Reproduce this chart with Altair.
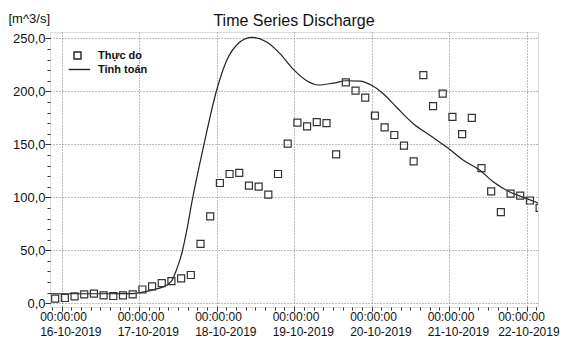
import altair as alt
import pandas as pd

# ---- data ----
obs_start = "2019-10-15 22:00"          # observations every 3 hours
obs_values = [4.4, 5, 6.6, 8.5, 9.1, 7.5, 6.9, 7.5, 8.5,
              13, 16, 19, 21, 23.6, 26.7, 56, 82,
              113.5, 122, 123, 111, 110, 102.5, 122, 150.6,
              170.5, 167, 171, 170, 140.6, 208.5, 200.6, 194,
              177, 166, 158.8, 148.8, 134, 215.4, 186, 197.8,
              176, 159.7, 175, 127.6, 105.7, 86, 103.5, 101.6,
              97, 90]

sim_times = ["2019-10-15 20:00", "2019-10-16 00:00", "2019-10-16 12:00", "2019-10-16 22:00",
             "2019-10-17 01:00", "2019-10-17 04:00", "2019-10-17 07:00", "2019-10-17 10:00",
             "2019-10-17 11:36", "2019-10-17 13:12", "2019-10-17 14:42", "2019-10-17 16:18",
             "2019-10-17 19:54", "2019-10-18 00:00", "2019-10-18 03:06", "2019-10-18 07:12",
             "2019-10-18 10:48", "2019-10-18 15:30", "2019-10-18 19:36", "2019-10-18 23:42",
             "2019-10-19 03:54", "2019-10-19 07:30", "2019-10-19 12:06", "2019-10-19 16:18",
             "2019-10-19 20:24", "2019-10-20 00:00", "2019-10-20 03:36", "2019-10-20 07:42",
             "2019-10-20 12:54", "2019-10-20 18:00", "2019-10-20 23:12", "2019-10-21 04:24",
             "2019-10-21 09:30", "2019-10-21 13:42", "2019-10-21 18:48", "2019-10-22 00:00",
             "2019-10-22 03:36"]
sim_values = [9, 9, 9, 9.2,
              10.5, 12.5, 15, 21,
              32, 47, 68, 95,
              147.5, 201, 229, 246.5,
              251, 246.5, 235.6, 221,
              210, 206, 207.8, 210,
              209.7, 205.7, 197.8, 185,
              169.5, 158.5, 147.5, 135,
              125.5, 114.4, 105, 98.8,
              94.6]

series_names = ["Thực do", "Tinh toán"]
day_ticks = ["2019-10-16", "2019-10-17", "2019-10-18", "2019-10-19",
             "2019-10-20", "2019-10-21", "2019-10-22"]
y_ticks = [0, 50, 100, 150, 200, 250]
y_minor = list(range(0, 260, 10))

# ---- tables ----
obs = pd.DataFrame({
    "t": pd.date_range(obs_start, periods=len(obs_values), freq="3h").strftime("%Y-%m-%dT%H:%M:%S"),
    "q": obs_values,
    "s": series_names[0],
})
sim = pd.DataFrame({
    "t": pd.to_datetime(sim_times).strftime("%Y-%m-%dT%H:%M:%S"),
    "q": sim_values,
    "s": series_names[1],
})
x_minor = list(pd.date_range("2019-10-15 21:00", "2019-10-22 03:00", freq="3h").strftime("%Y-%m-%dT%H:%M:%S"))

def dt(s):
    ts = pd.Timestamp(s)
    return alt.DateTime(year=ts.year, month=ts.month, date=ts.day, hours=ts.hour, minutes=ts.minute)

x_scale = alt.Scale(domain=[dt("2019-10-15 20:24"), dt("2019-10-22 03:30")])
y_scale = alt.Scale(domain=[-3.5, 256], nice=False, zero=False)

FONT = "Liberation Sans"

line = alt.Chart(sim).mark_line(color="#222222", strokeWidth=1.2, interpolate="monotone", clip=True).encode(
    x=alt.X("t:T", scale=x_scale,
            axis=alt.Axis(orient="bottom", values=[dt(d) for d in day_ticks], title=None,
                          grid=True, gridDash=[1, 2], gridColor="#7a7a7a", gridWidth=1,
                          domain=False, ticks=True, tickSize=4, tickColor="#333",
                          labelExpr="[timeFormat(datum.value, '%H:%M:%S'), timeFormat(datum.value, '%d-%m-%Y')]",
                          labelAlign="left", labelBaseline="top",
                          labelOffset={"condition": {"test": "datum.index > 0.99", "value": -29},
                                       "value": -22},
                          labelFontSize=12, labelFont=FONT, labelColor="#111",
                          labelLineHeight=15, labelPadding=0,
                          labelFlush=False, labelOverlap=False)),
    y=alt.Y("q:Q", scale=y_scale,
            axis=alt.Axis(orient="left", values=y_ticks, grid=True, gridDash=[1, 2],
                          gridColor="#7a7a7a", gridWidth=1, domain=False,
                          tickSize=5, tickColor="#333",
                          labelExpr="replace(format(datum.value, '.1f'), '.', ',')",
                          labelFontSize=13, labelFont=FONT, labelColor="#111", labelPadding=0,
                          title="[m^3/s]", titleAngle=0, titleAlign="left", titleBaseline="alphabetic",
                          titleX=-42, titleY=-10, titleFontSize=13, titleFontWeight="normal",
                          titleFont=FONT, titleColor="#111")),
)

points = alt.Chart(obs).mark_point(shape="square", filled=False, size=49, strokeWidth=1.2,
                                   color="#333333", opacity=1, clip=True).encode(
    x=alt.X("t:T", scale=x_scale,
            axis=alt.Axis(orient="bottom", values=[dt(v) for v in x_minor], title=None, grid=False,
                          domain=False, labels=False, tickSize=3, tickColor="#333")),
    y=alt.Y("q:Q", scale=y_scale,
            axis=alt.Axis(orient="left", values=y_minor, title=None, grid=False,
                          domain=False, labels=False, tickSize=3, tickColor="#333")),
    shape=alt.Shape("s:N",
                    scale=alt.Scale(domain=series_names, range=["square", "M-2.5,0H3.6"]),
                    legend=alt.Legend(title=None, orient="none", legendX=22, legendY=18,
                                      padding=0, rowPadding=1, labelOffset=15,
                                      labelFont=FONT, labelFontSize=11, labelFontWeight="bold",
                                      labelColor="#111", symbolStrokeColor="#222",
                                      symbolStrokeWidth=1.4, symbolSize=49,
                                      symbolFillColor="transparent")),
)

chart = alt.layer(line, points).resolve_axis(x="independent", y="independent").properties(
    width=488, height=275,
    autosize=alt.AutoSizeParams(type="none"),
    padding={"left": 42, "top": 24, "right": 22, "bottom": 30},
    title=alt.Title("Time Series Discharge", fontSize=16, font=FONT, fontWeight="normal",
                    color="#111", anchor="middle", offset=4, dy=21),
).configure_view(stroke="#444444", strokeWidth=1).configure(background="white")

chart.save("out.html", embed_options={"renderer": "svg", "actions": False})
